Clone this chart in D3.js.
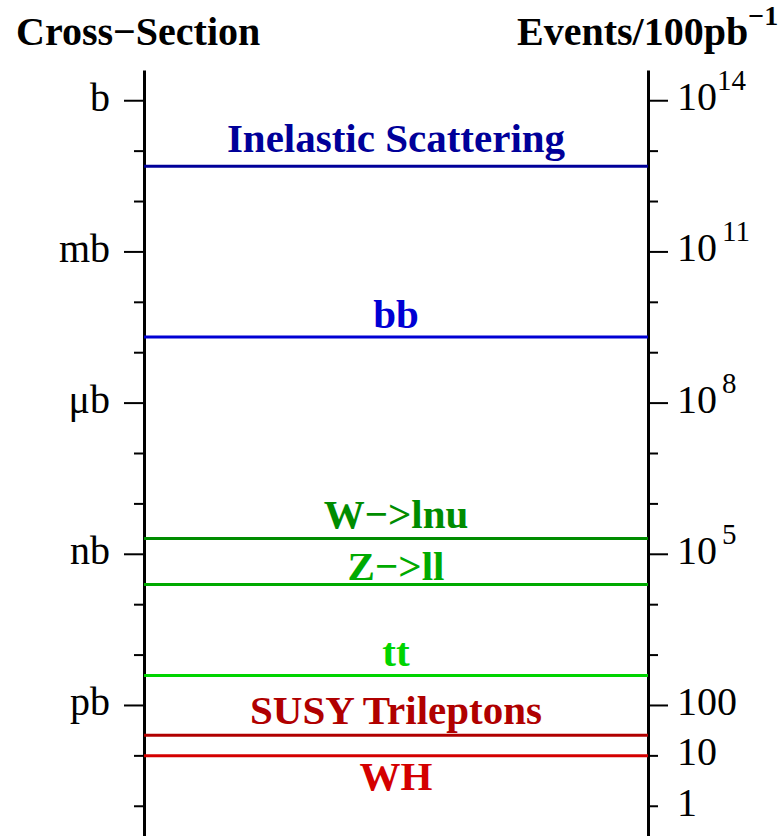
<!DOCTYPE html>
<html>
<head>
<meta charset="utf-8">
<script src="https://cdn.jsdelivr.net/npm/d3@7"></script>
<style>
  body { margin: 0; background: #fff; }
  text { font-family: "Liberation Serif", "Times New Roman", serif; }
</style>
</head>
<body>
<svg id="chart"></svg>
<script>
// processes and their event counts per 100 pb^-1
var processes = ["Inelastic Scattering", "bb", "W\u2212>lnu", "Z\u2212>ll", "tt", "SUSY Trileptons", "WH"];
var eventsPer100pb = [4.9e12, 2.0e9, 2.0e5, 2.45e4, 385, 25, 9.8];
var processColors = ["#000099", "#0000d4", "#008c00", "#00aa00", "#00d400", "#b00000", "#d40000"];

// left axis: cross-section units (in events/100pb^-1)
var xsecTicks = [1e14, 1e11, 1e8, 1e5, 1e2];
var xsecLabels = ["b", "mb", "\u03bcb", "nb", "pb"];

// right axis: events
var eventMajorTicks = [1e14, 1e11, 1e8, 1e5, 1e2];
var eventMajorBase = ["10", "10", "10", "10", "100"];
var eventMajorExp = ["14", "11", "8", "5", ""];
var eventLabeledMinor = [10, 1];
var eventLabeledMinorText = ["10", "1"];

var decades = d3.range(0, 15).map(function(p) { return Math.pow(10, p); });

var screen = { width: 780, height: 836 };
var axisLeftX = 144, axisRightX = 648;

var svg = d3.select("#chart")
  .attr("width", screen.width)
  .attr("height", screen.height);

svg.append("rect").attr("width", screen.width).attr("height", screen.height).attr("fill", "#fff");

var yScale = d3.scaleLog()
  .domain([Math.pow(10, -0.6), Math.pow(10, 14.6)])
  .range([836, 70]);

var minorTicks = decades.filter(function(d) { return xsecTicks.indexOf(d) < 0; });

// left axis, major + minor
var leftMajor = d3.axisLeft(yScale)
  .tickValues(xsecTicks)
  .tickSize(20)
  .tickSizeOuter(0)
  .tickPadding(14)
  .tickFormat(function(d, i) { return xsecLabels[i]; });

var leftMinor = d3.axisLeft(yScale)
  .tickValues(minorTicks)
  .tickSize(10)
  .tickSizeOuter(0)
  .tickFormat("");

var gl = svg.append("g").attr("transform", "translate(" + axisLeftX + ",0)").call(leftMajor);
svg.append("g").attr("transform", "translate(" + axisLeftX + ",0)").call(leftMinor)
  .select(".domain").remove();

gl.select(".domain").attr("stroke-width", 3);
gl.selectAll(".tick text")
  .attr("font-size", 40)
  .attr("dy", "0.25em")
  .attr("fill", "#000");

// right axis
var rightMajor = d3.axisRight(yScale)
  .tickValues(eventMajorTicks)
  .tickSize(20)
  .tickSizeOuter(0)
  .tickFormat("");

var rightMinor = d3.axisRight(yScale)
  .tickValues(minorTicks)
  .tickSize(10)
  .tickSizeOuter(0)
  .tickFormat("");

var gr = svg.append("g").attr("transform", "translate(" + axisRightX + ",0)").call(rightMajor);
svg.append("g").attr("transform", "translate(" + axisRightX + ",0)").call(rightMinor)
  .select(".domain").remove();
gr.select(".domain").attr("stroke-width", 3);
svg.selectAll(".tick line").attr("stroke-width", 2);

var rl = svg.selectAll(".rlabel")
  .data(eventMajorTicks)
  .enter()
  .append("text")
  .attr("class", "rlabel")
  .attr("x", axisRightX + 29)
  .attr("y", function(d) { return yScale(d) + 10; })
  .attr("font-size", 40);

rl.append("tspan").text(function(d, i) { return eventMajorBase[i]; });
rl.append("tspan")
  .attr("dx", function(d, i) { return i == 0 ? 0 : 5; })
  .attr("dy", -20)
  .attr("font-size", 29)
  .text(function(d, i) { return eventMajorExp[i]; });

svg.selectAll(".rminor")
  .data(eventLabeledMinor)
  .enter()
  .append("text")
  .attr("class", "rminor")
  .attr("x", axisRightX + 29)
  .attr("y", function(d) { return yScale(d) + 10; })
  .attr("font-size", 40)
  .text(function(d, i) { return eventLabeledMinorText[i]; });

// process lines
var labelDy = [-14, -9, -11, -5, -9, -11, 34];

svg.selectAll(".proc")
  .data(eventsPer100pb)
  .enter()
  .append("line")
  .attr("class", "proc")
  .attr("x1", axisLeftX)
  .attr("x2", axisRightX)
  .attr("y1", function(d) { return yScale(d); })
  .attr("y2", function(d) { return yScale(d); })
  .attr("stroke", function(d, i) { return processColors[i]; })
  .attr("stroke-width", 3);

svg.selectAll(".plabel")
  .data(eventsPer100pb)
  .enter()
  .append("text")
  .attr("class", "plabel")
  .attr("x", (axisLeftX + axisRightX) / 2)
  .attr("y", function(d, i) { return yScale(d) + labelDy[i]; })
  .attr("text-anchor", "middle")
  .attr("font-size", 41)
  .attr("font-weight", "bold")
  .attr("fill", function(d, i) { return processColors[i]; })
  .text(function(d, i) { return processes[i]; });

// titles
svg.append("text")
  .attr("x", 16)
  .attr("y", 45)
  .attr("font-size", 40)
  .attr("font-weight", "bold")
  .text("Cross\u2212Section");

var et = svg.append("text")
  .attr("x", 517)
  .attr("y", 45)
  .attr("font-size", 40)
  .attr("font-weight", "bold");
et.append("tspan").text("Events/100pb");
et.append("tspan").attr("dy", -20).attr("font-size", 28).text("\u22121");
</script>
</body>
</html>
